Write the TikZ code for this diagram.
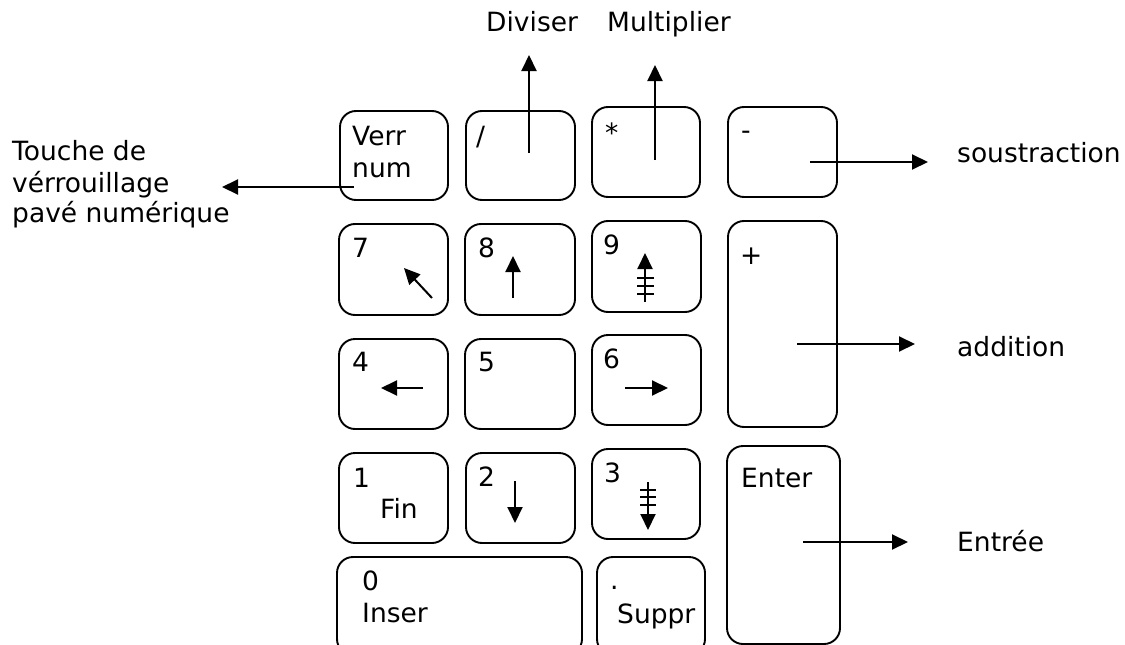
\documentclass[tikz,border=0pt]{standalone}
\usepackage{fontspec}
\setmainfont{DejaVu Sans}
\usetikzlibrary{arrows.meta}

\tikzset{
  touche/.style={draw, line width=1.9pt, rounded corners=16pt, inner sep=0pt, outer sep=0pt},
  fleche/.style={line width=2pt, -{Triangle[length=16pt,width=15pt]}},
  txt/.style={anchor=base west, inner sep=0pt, font=\fontsize{26.5}{30}\selectfont},
}

\begin{document}
\begin{tikzpicture}[x=1pt,y=-1pt]
        \useasboundingbox (0,0) rectangle (1125,645);

        % Touches du pavé
        \node[touche, minimum width=108, minimum height=89] (verr) at (394,155.5) {};
        \node[touche, minimum width=109, minimum height=89] (div) at (520.5,155.5) {};
        \node[touche, minimum width=108, minimum height=90] (mul) at (646,152) {};
        \node[touche, minimum width=109, minimum height=90] (moins) at (782.5,152) {};

        \node[touche, minimum width=109, minimum height=91] (k7) at (393.5,269.5) {};
        \node[touche, minimum width=110, minimum height=91] (k8) at (520,269.5) {};
        \node[touche, minimum width=109, minimum height=91] (k9) at (646.5,266.5) {};
        \node[touche, minimum width=109, minimum height=206] (plus) at (782.5,324) {};

        \node[touche, minimum width=109, minimum height=90] (k4) at (393.5,384) {};
        \node[touche, minimum width=110, minimum height=90] (k5) at (520,384) {};
        \node[touche, minimum width=109, minimum height=90] (k6) at (646.5,380) {};

        \node[touche, minimum width=109, minimum height=90] (k1) at (393.5,498) {};
        \node[touche, minimum width=109, minimum height=90] (k2) at (520.5,498) {};
        \node[touche, minimum width=108, minimum height=90] (k3) at (646,494) {};
        \node[touche, minimum width=113, minimum height=198] (entree) at (783.5,545) {};

        \node[touche, minimum width=245, minimum height=98] (k0) at (459.5,606) {};
        \node[touche, minimum width=108, minimum height=98] (kpt) at (651,606) {};

        % Inscriptions des touches
        \node[txt] (tverr) at (352,145) {Verr};
        \node[txt] (tnum) at (352,177) {num};
        \node[txt] (tdiv) at (476,145) {/};
        \node[txt] (tmul) at (605,142) {*};
        \node[txt] (tmoins) at (741,139) {-};
        \node[txt] (t7) at (352,257) {7};
        \node[txt] (t8) at (478,257) {8};
        \node[txt] (t9) at (603,254) {9};
        \node[txt] (tplus) at (740,264) {+};
        \node[txt] (t4) at (352,371) {4};
        \node[txt] (t5) at (478,371) {5};
        \node[txt] (t6) at (603,368) {6};
        \node[txt] (t1) at (353,487) {1};
        \node[txt] (tfin) at (380,518) {Fin};
        \node[txt] (t2) at (478,486) {2};
        \node[txt] (t3) at (604,482) {3};
        \node[txt] (tenter) at (741,487) {Enter};
        \node[txt] (t0) at (362,590) {0};
        \node[txt] (tinser) at (362,622) {Inser};
        \node[txt] (tpt) at (610,589) {.};
        \node[txt] (tsuppr) at (617,623) {Suppr};

        % Légendes
        \node[txt] (lverr1) at (12,160) {Touche de};
        \node[txt] (lverr2) at (12,192) {vérrouillage};
        \node[txt] (lverr3) at (12,222) {pavé numérique};
        \node[txt] (ldiv) at (486,31) {Diviser};
        \node[txt] (lmul) at (607,31) {Multiplier};
        \node[txt] (lmoins) at (957,162) {soustraction};
        \node[txt] (lplus) at (957,356) {addition};
        \node[txt] (lentree) at (957,551) {Entrée};

        % Flèches vers les légendes
        \coordinate (verrA) at (354,187);  \coordinate (verrB) at (222,187);
        \coordinate (divA) at (529,153);   \coordinate (divB) at (529,55);
        \coordinate (mulA) at (655,160);   \coordinate (mulB) at (655,65);
        \coordinate (moinsA) at (810,162); \coordinate (moinsB) at (928,162);
        \coordinate (plusA) at (797,344);  \coordinate (plusB) at (915,344);
        \coordinate (entA) at (803,542);   \coordinate (entB) at (908,542);

        \draw[fleche] (verrA) -- (verrB);
        \draw[fleche] (divA) -- (divB);
        \draw[fleche] (mulA) -- (mulB);
        \draw[fleche] (moinsA) -- (moinsB);
        \draw[fleche] (plusA) -- (plusB);
        \draw[fleche] (entA) -- (entB);

        % Flèches dans les touches
        \coordinate (f7A) at (432,298); \coordinate (f7B) at (404,268);
        \coordinate (f8A) at (513,298); \coordinate (f8B) at (513,256);
        \coordinate (f9A) at (645,302); \coordinate (f9B) at (645,253);
        \coordinate (f4A) at (423,388); \coordinate (f4B) at (381,388);
        \coordinate (f6A) at (625,388); \coordinate (f6B) at (668,388);
        \coordinate (f2A) at (515,481); \coordinate (f2B) at (515,523);
        \coordinate (f3A) at (648,482); \coordinate (f3B) at (648,530);

        \draw[fleche] (f7A) -- (f7B);
        \draw[fleche] (f8A) -- (f8B);
        \draw[fleche] (f9A) -- (f9B);
        \draw[fleche] (f4A) -- (f4B);
        \draw[fleche] (f6A) -- (f6B);
        \draw[fleche] (f2A) -- (f2B);
        \draw[fleche] (f3A) -- (f3B);

        % Traits de page (9 et 3)
        \foreach \yy in {278,286,294} \draw[line width=1.4pt] (637,\yy) -- ++(17,0);
        \foreach \yy in {490,497,505} \draw[line width=1.4pt] (640,\yy) -- ++(16,0);
    \end{tikzpicture}
\end{document}
